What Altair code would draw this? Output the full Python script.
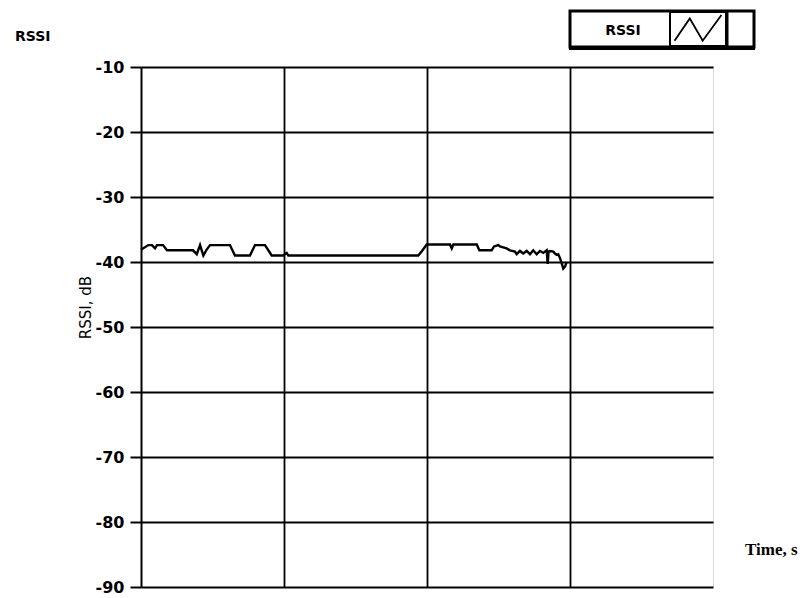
import altair as alt
import pandas as pd

# RSSI trace: time (s) and received signal strength (dB)
time_s = [0, 5.1, 7.7, 9.8, 11.2, 15.4, 18.2, 36.4, 39.0, 41.3, 43.6, 45.9, 48.3,
          62.2, 65.7, 76.2, 79.7, 86.7, 91.4, 99.5, 101.9, 103.0, 193.9, 196.5,
          199.8, 216.1, 217.3, 218.4, 234.8, 236.6, 245.2, 246.9, 249.9, 251.0,
          255.7, 258.0, 261.5, 262.7, 265.0, 267.3, 269.7, 272.0, 274.3, 276.7,
          279.0, 281.3, 283.7, 284.4, 285.0, 286.0, 288.3, 289.5, 290.7, 291.8,
          293.0, 294.2, 295.3, 296.5, 297.7]
rssi_db = [-38.1, -37.4, -37.4, -37.9, -37.4, -37.4, -38.2, -38.2, -38.8, -37.4,
           -39.0, -38.1, -37.4, -37.4, -39.0, -39.0, -37.4, -37.4, -39.0, -39.0,
           -38.6, -39.0, -39.0, -38.3, -37.3, -37.3, -37.9, -37.3, -37.3, -38.2,
           -38.2, -37.6, -37.4, -37.6, -37.9, -38.2, -38.4, -38.8, -38.3, -38.7,
           -38.3, -38.8, -38.2, -38.8, -38.3, -38.6, -38.2, -40.3, -38.4, -38.3,
           -38.4, -38.7, -38.9, -38.8, -39.4, -40.2, -41.0, -40.7, -40.0]

y_ticks = [-10, -20, -30, -40, -50, -60, -70, -80, -90]
x_grid = [100, 200, 300]
x_domain = [0, 400]
y_domain = [-90, -10]

W, H = 572, 520
one = pd.DataFrame({"k": [0]})
df = pd.DataFrame({"t": time_s, "rssi": rssi_db})

x_enc = alt.X(
    "t:Q",
    scale=alt.Scale(domain=x_domain, nice=False, zero=False),
    axis=alt.Axis(title=None, labels=False, ticks=False, domain=False,
                  values=x_grid, grid=True, gridColor="black",
                  gridWidth=1.8, gridOpacity=1),
)
y_enc = alt.Y(
    "rssi:Q",
    scale=alt.Scale(domain=y_domain, nice=False, zero=False),
    axis=alt.Axis(
        title="RSSI, dB", values=y_ticks, grid=True, gridColor="black",
        gridWidth=1.8, gridOpacity=1, domain=True, domainColor="black",
        domainWidth=2, tickColor="black", tickSize=11, tickWidth=2,
        labelExpr="'' + datum.value",
        labelFont="DejaVu Sans", labelFontSize=16, labelFontWeight="bold",
        labelColor="black", labelPadding=6,
        titleFont="DejaVu Sans", titleFontSize=15, titleFontWeight="normal",
        titleColor="#000000", titleX=-56, titleY=240, titleAngle=270,
        titleAlign="center", titleBaseline="middle",
    ),
)

trace = alt.Chart(df).mark_line(color="black", strokeWidth=2.4).encode(x=x_enc, y=y_enc)

# Top-left chart label
top_label = alt.Chart(one).mark_text(
    text="RSSI", font="DejaVu Sans", fontSize=14, fontWeight="bold", align="left",
    baseline="middle", color="black",
).encode(x=alt.value(-126), y=alt.value(-30))

# Time axis caption
time_label = alt.Chart(one).mark_text(
    text="Time, s", font="Liberation Serif", fontSize=17, fontWeight="bold",
    align="left", baseline="middle", color="black",
).encode(x=alt.value(604), y=alt.value(483))

# Legend panel: outer frame, label, line-sample box and blank slot
legend_frame = alt.Chart(one).mark_rect(
    fill="white", stroke="black", strokeWidth=3,
).encode(x=alt.value(429), x2=alt.value(613), y=alt.value(-56), y2=alt.value(-20))

legend_bottom = alt.Chart(one).mark_rule(color="black", strokeWidth=2).encode(
    x=alt.value(428), x2=alt.value(614), y=alt.value(-18))

legend_text = alt.Chart(one).mark_text(
    text="RSSI", font="DejaVu Sans", fontSize=14, fontWeight="bold", align="center",
    baseline="middle", color="black",
).encode(x=alt.value(482), y=alt.value(-36))

sample_box = alt.Chart(one).mark_rect(
    fill="white", stroke="black", strokeWidth=2,
).encode(x=alt.value(529), x2=alt.value(585), y=alt.value(-55), y2=alt.value(-21))

slot_divider = alt.Chart(one).mark_rule(color="black", strokeWidth=3).encode(
    x=alt.value(586), y=alt.value(-56), y2=alt.value(-20))

sample_icon = alt.Chart(one).mark_point(
    shape="M -1 0.5 L -0.35 -0.45 L 0.2 0.5 L 1 -0.6",
    filled=False, color="black", strokeWidth=1.8, size=2200, opacity=1,
).encode(x=alt.value(557), y=alt.value(-38))

chart = alt.layer(
    trace, top_label, time_label, legend_frame, legend_bottom, legend_text,
    sample_box, slot_divider, sample_icon,
).properties(
    width=W, height=H,
    autosize=alt.AutoSizeParams(type="none"),
    padding={"left": 141, "top": 67, "right": 97, "bottom": 11},
).configure_view(
    stroke="black", strokeWidth=2.5,
).configure(background="white")

chart.save("out.html", embed_options={"renderer": "svg", "actions": False})
